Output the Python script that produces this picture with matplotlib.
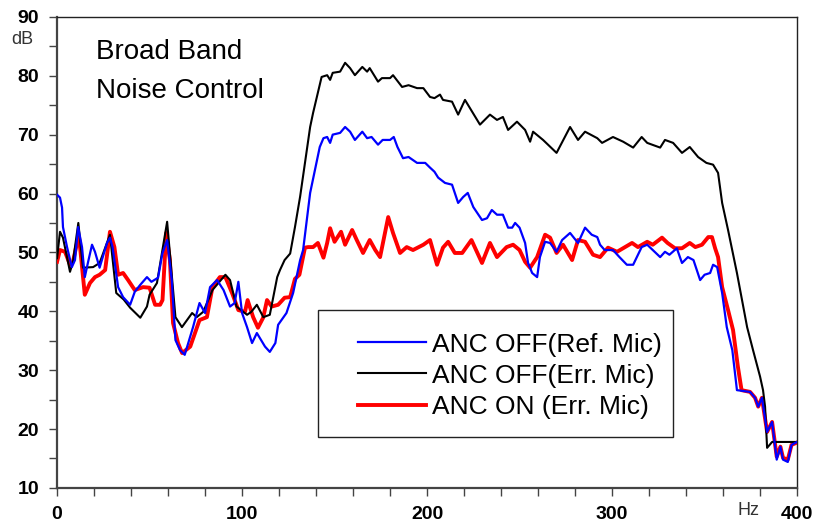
import numpy as np
import matplotlib.pyplot as plt
from matplotlib.lines import Line2D
from matplotlib.patches import Rectangle

# ANC OFF (Ref. Mic) - blue
ref_f = [0, 1.6, 2.7, 3.2, 5.4, 8, 9.7, 11.4, 13.5, 15, 16.8, 18.9, 20.5, 23, 27, 28.6, 30, 33, 35.7,
         39.5, 42, 45, 48.6, 51, 54.6, 57, 59.5, 62, 64, 66.5, 69, 73.5, 77, 80, 82.7, 86.5, 90, 93.5,
         96, 98, 100, 102.7, 105.4, 108, 112.4, 115, 118, 119.5, 124, 127.6, 131.4, 133, 136.8, 142,
         144, 146, 147.6, 149, 153, 155.7, 158.4, 161, 165, 167.6, 170, 173.5, 176, 180, 182, 184, 187,
         190, 194.6, 199, 201.6, 204, 206, 209.7, 213.5, 216.8, 219.5, 222, 225, 229.7, 232.4, 235,
         237.8, 241, 243.8, 246, 247.6, 250, 253, 254.6, 256.8, 259.5, 261, 263.8, 266.5, 270, 273,
         277.3, 281.6, 285.4, 289, 292, 293.5, 296, 300.5, 304, 308, 311.4, 316, 319, 322, 326, 328.6,
         331, 335, 337.8, 341, 344, 347.6, 350, 353, 354.6, 356.8, 359.5, 362, 365, 367.5, 374.6, 377.3,
         379, 381, 383.8, 386.5, 389, 391, 392.4, 395, 397, 400]
ref_db = [59.8, 59.3, 57.6, 54.3, 50.9, 47.5, 48.7, 54.3, 50.9, 45.8, 48.4, 51.3, 50.1, 47.4, 51.6, 52.5,
          50.9, 44.1, 42.4, 41.1, 43.3, 44.5, 45.8, 45.0, 45.7, 49.9, 52.1, 45.3, 35.1, 33.4, 32.6, 37.3,
          41.4, 39.7, 44.1, 45.3, 43.6, 40.8, 41.4, 45.0, 39.7, 37.3, 34.6, 36.3, 34.0, 33.1, 34.6, 37.7,
          39.7, 43.1, 48.7, 50.4, 60.1, 67.9, 69.4, 69.6, 68.6, 70.0, 70.3, 71.3, 70.5, 69.1, 70.5, 69.4,
          69.6, 68.3, 69.1, 69.1, 69.6, 67.9, 66.0, 66.2, 65.2, 65.2, 64.4, 63.7, 62.7, 61.8, 61.5, 58.4,
          59.4, 60.1, 57.7, 55.5, 55.8, 57.2, 56.4, 56.4, 54.2, 54.2, 55.0, 54.2, 51.6, 48.2, 46.5, 45.8,
          49.2, 51.8, 51.6, 50.1, 52.1, 53.3, 51.6, 54.2, 53.0, 52.6, 51.3, 50.4, 50.4, 49.2, 47.9, 47.9,
          50.9, 51.3, 50.4, 49.2, 50.1, 49.6, 50.7, 48.2, 49.2, 48.7, 45.3, 46.2, 46.5, 47.9, 47.5, 43.1,
          37.3, 33.4, 26.6, 26.3, 25.3, 23.8, 25.3, 19.5, 21.2, 14.8, 17.0, 14.8, 14.4, 17.3, 17.8]

# ANC OFF (Err. Mic) - black
off_f = [0, 1.6, 3.2, 7, 8.6, 11.5, 14, 19.5, 23, 28.6, 32, 36, 39.5, 45, 48.6, 50, 54, 59.5, 64, 67.5,
         73, 75.5, 79, 84, 91, 93.5, 97, 102.7, 105, 108, 111.5, 115, 119, 120.5, 123, 126, 128.6, 131.4,
         136.8, 138.4, 143, 146, 147.6, 149, 153, 155.7, 158.4, 161, 165, 167.6, 169, 173.5, 175.6, 180,
         181.6, 186.5, 190, 194.6, 198, 201.6, 204, 207, 208.6, 213.5, 216.8, 220.5, 228.6, 234, 237.8,
         241, 243.8, 248.6, 253, 255.7, 257.3, 262.7, 270, 277.3, 281.6, 285.4, 292, 294.6, 300.5, 306,
         311.4, 316, 319, 321.6, 326, 328.6, 333, 337.8, 342, 346.5, 351, 354.6, 357.3, 359.5, 362.7,
         367.5, 373, 376.2, 380, 381.6, 382.7, 383.8, 386.5, 400]
off_db = [49.0, 53.5, 52.5, 46.7, 48.4, 55.0, 47.4, 47.5, 48.2, 53.0, 43.1, 42.0, 40.6, 38.9, 40.8, 42.8,
          44.8, 55.2, 39.0, 37.3, 39.7, 39.0, 39.9, 43.6, 46.2, 45.3, 40.8, 39.4, 39.9, 41.1, 39.0, 39.4,
          45.8, 47.0, 48.7, 49.8, 54.3, 59.5, 71.3, 73.7, 79.8, 80.1, 79.3, 80.5, 80.7, 82.2, 81.3, 80.1,
          81.5, 80.7, 81.3, 79.0, 79.6, 79.6, 80.1, 78.1, 78.4, 77.9, 77.9, 76.4, 76.2, 76.8, 75.9, 75.6,
          73.4, 75.9, 71.7, 73.4, 72.5, 73.0, 70.8, 72.2, 70.8, 68.8, 70.5, 69.1, 66.9, 71.3, 69.1, 70.5,
          69.4, 68.6, 69.6, 68.8, 67.8, 69.6, 68.6, 68.3, 67.8, 69.1, 68.6, 66.9, 67.9, 66.2, 65.2, 64.9,
          63.5, 58.4, 53.8, 46.5, 37.3, 33.4, 28.9, 26.6, 23.8, 16.8, 17.8, 17.8]

# ANC ON (Err. Mic) - red
on_f = [0, 1.6, 4.3, 7, 8.6, 10.8, 11.9, 13.5, 15, 17.8, 20.5, 23, 26, 28.6, 31, 33, 35.7, 38.4, 42,
        46.5, 50, 53, 55.7, 57, 59, 61, 62.7, 65.4, 67.6, 72, 77, 81, 84, 88, 91, 94.6, 98, 101.6, 103,
        106, 108.6, 111.4, 113.5, 116, 119.5, 123, 126, 128.6, 131, 134, 135.7, 138.4, 141, 144, 146,
        147.6, 150, 153.5, 155.7, 159.5, 162, 165.4, 169, 172, 174.6, 179, 181.6, 185.4, 189, 192.4, 198,
        201.6, 205.4, 208.6, 211.4, 215, 219, 224, 229.7, 234, 237.8, 243, 246.5, 250, 253, 255.7, 259.5,
        263.8, 266.5, 270, 273.5, 278.4, 281.6, 285.4, 289.7, 293.5, 297.8, 302.7, 307, 310.8, 314, 319,
        322, 327, 330, 334, 337.8, 342, 345, 348.6, 352, 354, 355.7, 357.3, 359.5, 362.7, 365.4, 368, 370,
        374.6, 377.3, 379, 381, 383.8, 386.5, 389, 391, 392.4, 395, 397, 400]
on_db = [48.4, 50.4, 50.1, 47.9, 48.4, 51.6, 52.6, 47.5, 42.8, 44.8, 45.8, 46.2, 47.0, 53.5, 50.9, 46.2,
         46.5, 45.3, 43.6, 44.1, 44.0, 41.1, 41.1, 41.9, 53.3, 48.7, 38.0, 34.6, 32.9, 34.0, 38.5, 39.0,
         44.1, 45.8, 45.8, 43.1, 40.2, 39.9, 41.9, 39.0, 37.2, 38.9, 41.9, 40.8, 41.1, 42.3, 42.4, 45.5,
         46.2, 50.8, 50.9, 50.9, 51.6, 49.1, 51.6, 54.1, 51.8, 53.5, 51.3, 53.8, 52.1, 49.9, 52.1, 50.4,
         49.2, 56.0, 53.3, 49.9, 50.9, 50.4, 51.3, 52.1, 47.9, 50.8, 51.8, 49.9, 49.9, 52.1, 48.2, 51.6,
         49.2, 50.9, 51.3, 50.4, 48.4, 47.4, 49.2, 53.0, 52.5, 49.9, 51.3, 48.7, 52.1, 51.8, 49.6, 49.2,
         50.8, 50.1, 50.9, 51.6, 50.9, 51.8, 51.3, 52.5, 51.6, 50.7, 50.7, 51.6, 50.9, 51.3, 52.6, 52.6,
         50.7, 49.2, 44.1, 40.2, 36.8, 30.6, 26.6, 26.3, 25.3, 23.8, 25.3, 19.5, 21.2, 15.3, 17.0, 15.1,
         14.8, 17.3, 17.7]

labels = ['ANC OFF(Ref. Mic)', 'ANC OFF(Err. Mic)', 'ANC ON (Err. Mic)']

plt.rcParams['font.family'] = ['Liberation Sans', 'DejaVu Sans']

fig = plt.figure(figsize=(8.15, 5.28), dpi=100)
ax = fig.add_axes([0.070, 0.076, 0.908, 0.892])

ax.plot(on_f, on_db, color='#ff0000', lw=2.8, zorder=3)
ax.plot(off_f, off_db, color='black', lw=1.5, zorder=4)
ax.plot(ref_f, ref_db, color='#0000ff', lw=1.6, zorder=5)

ax.set_xlim(0, 400)
ax.set_ylim(10, 90)
ax.set_xticks(np.arange(0, 401, 100))
ax.set_xticks(np.arange(0, 401, 20), minor=True)
ax.set_yticks(np.arange(10, 91, 10))
ax.set_yticks(np.arange(10, 91, 5), minor=True)

for side in ['left', 'bottom']:
    ax.spines[side].set_linewidth(1.6)
    ax.spines[side].set_color('#444444')
for side in ['top', 'right']:
    ax.spines[side].set_linewidth(1.0)
    ax.spines[side].set_color('#222222')

ax.tick_params(which='both', direction='out', length=6, width=1.0, color='#444444')
ax.tick_params(axis='x', which='both', pad=7)
ax.tick_params(axis='y', which='both', pad=7)
for lab in ax.get_xticklabels() + ax.get_yticklabels():
    lab.set_fontweight('bold')
    lab.set_fontsize(14)
    lab.set_fontfamily(['Liberation Sans Narrow', 'Liberation Sans'])

ax.text(-0.047, 0.951, 'dB', transform=ax.transAxes, ha='center', va='center', fontsize=13, color='#333333')
ax.text(0.934, -0.047, 'Hz', transform=ax.transAxes, ha='center', va='center', fontsize=13, color='#333333')

ax.text(0.053, 0.926, 'Broad Band', transform=ax.transAxes, ha='left', va='center', fontsize=20)
ax.text(0.053, 0.843, 'Noise Control', transform=ax.transAxes, ha='left', va='center', fontsize=20)

# legend box
ax.add_patch(Rectangle((0.353, 0.108), 0.479, 0.270, transform=ax.transAxes,
                       fill=True, facecolor='white', edgecolor='#222222', lw=1.0, zorder=6))
handles = [Line2D([], [], color='#0000ff', lw=1.6),
           Line2D([], [], color='black', lw=1.5),
           Line2D([], [], color='#ff0000', lw=2.8)]
leg = ax.legend(handles, labels, loc='upper left', bbox_to_anchor=(0.40, 0.341),
                frameon=False, fontsize=19, handlelength=2.55, handletextpad=0.26,
                labelspacing=0.27, borderpad=0.2, borderaxespad=0)
leg.set_zorder(7)

fig.savefig('out.png', dpi=100)
